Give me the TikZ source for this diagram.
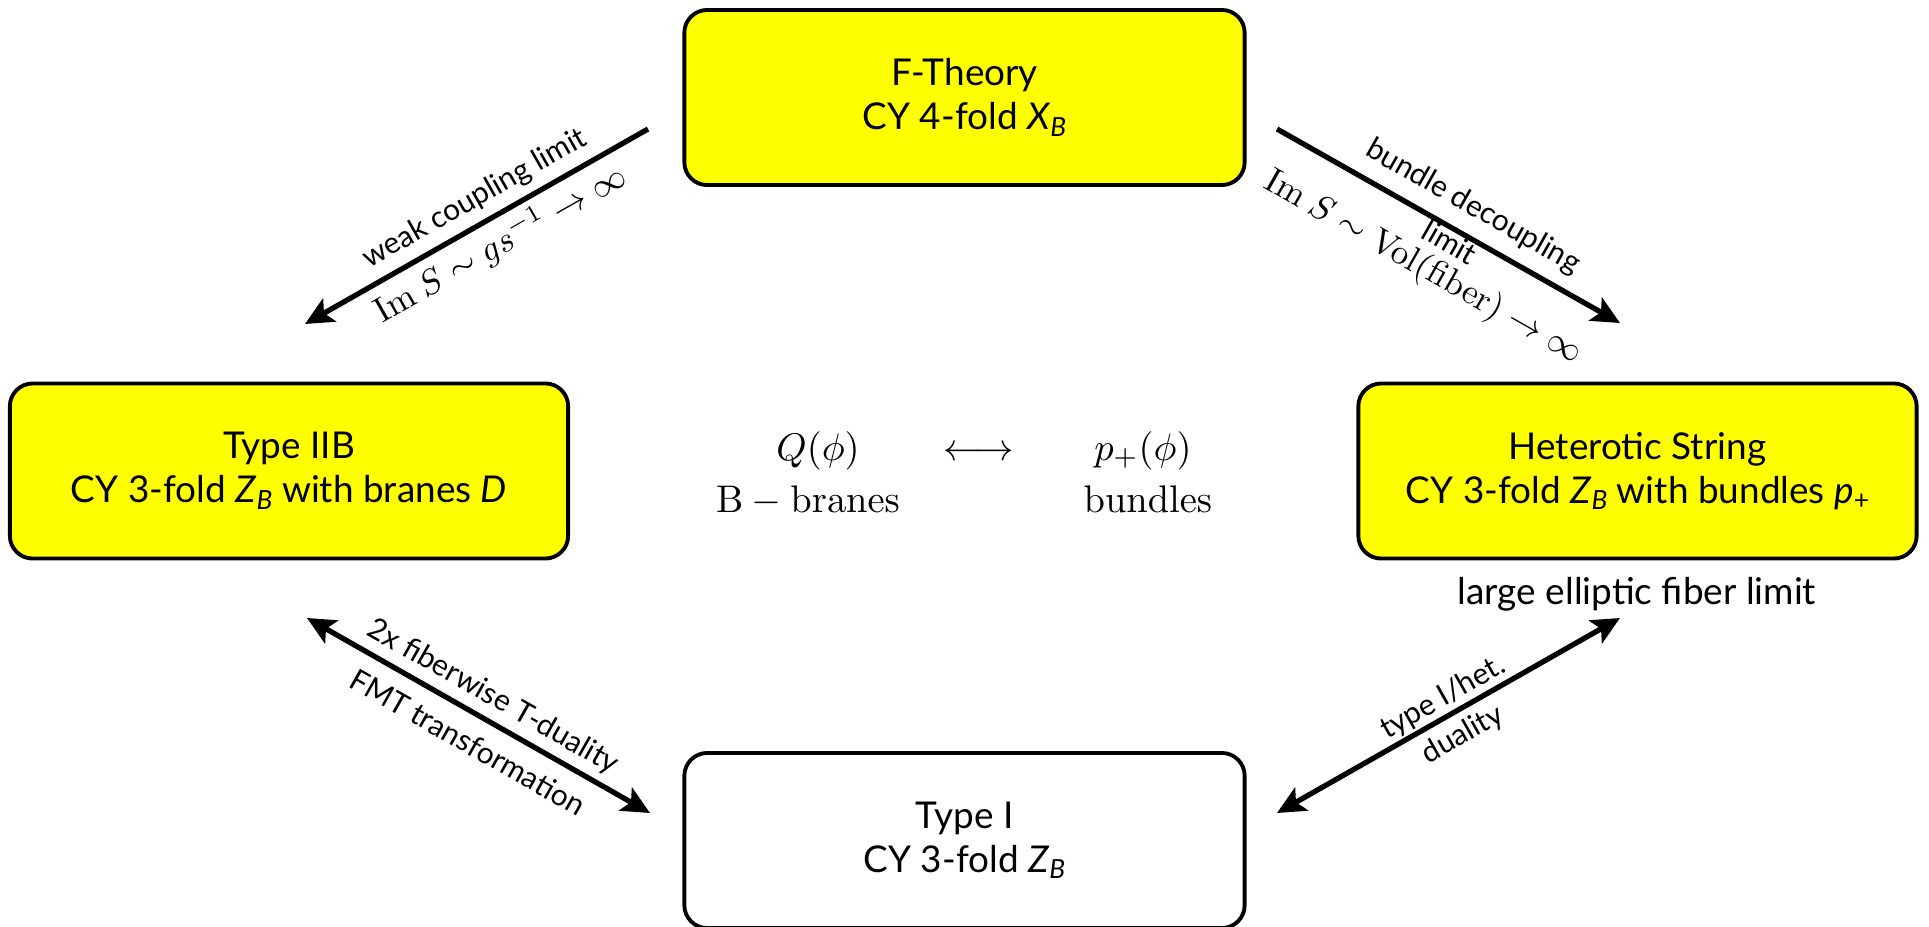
\documentclass[tikz,border=0pt]{standalone}
\usepackage[no-math]{fontspec}
\setmainfont{Lato}
\usetikzlibrary{arrows.meta}
\definecolor{boxyellow}{RGB}{255,255,0}
\newcommand\mysub[1]{\raisebox{-0.35ex}{\fontsize{7.5}{8}\selectfont #1}}
\tikzset{
  theory/.style={draw=black, line width=1.1pt, rounded corners=6.5pt,
    minimum width=5.6cm, minimum height=1.75cm, align=center, inner sep=0pt,
    font=\fontsize{10.5}{12.5}\selectfont},
  hl/.style={theory, fill=boxyellow},
  conn/.style={line width=1.5pt, -{Stealth[length=8pt,width=7.5pt,inset=1.8pt]}},
  dconn/.style={line width=1.5pt, {Stealth[length=8pt,width=7.5pt,inset=1.8pt]}-{Stealth[length=8pt,width=7.5pt,inset=1.8pt]}},
  lbl/.style={font=\fontsize{8.5}{10}\selectfont, inner sep=0pt, align=center},
  mlbl/.style={inner sep=0pt, font=\fontsize{10}{12}\selectfont},
  ctext/.style={inner sep=0pt, anchor=base, font=\fontsize{10.95}{13}\selectfont},
}
\begin{document}
\begin{tikzpicture}[x=0.01cm,y=-0.01cm]
\useasboundingbox (0,0) rectangle (1929,927);
% boxes
\node[hl] (F) at (964.5,97.5) {F-Theory\\CY 4-fold \textit{X}\mysub{\textit{B}}};
\node[hl, minimum width=5.58cm] (IIB) at (289,471) {Type IIB\\CY 3-fold \textit{Z}\mysub{\textit{B}} with branes \textit{D}};
\node[hl, minimum width=5.58cm] (Het) at (1637.5,471) {Heterotic String\\CY 3-fold \textit{Z}\mysub{\textit{B}} with bundles \textit{p}\mysub{+}};
\node[theory] (I) at (964.5,840.5) {Type I\\CY 3-fold \textit{Z}\mysub{\textit{B}}};
\node[lbl, font=\fontsize{10.5}{12}\selectfont] (lef) at (1637,594) {large elliptic fiber limit};
% centre
\node[ctext] (Q) at (818,460) {$Q(\phi)$};
\node[ctext] (lr) at (979,460) {$\longleftrightarrow$};
\node[ctext] (p) at (1143,460) {$p_+(\phi)$};
\node[ctext] (Bb) at (808,512) {$\mathrm{B-branes}$};
\node[ctext] (bu) at (1148,512) {$\mathrm{bundles}$};
% connector ends
\coordinate (w1) at (648,129); \coordinate (w2) at (305,324);
\coordinate (b1) at (1277,129); \coordinate (b2) at (1620,323);
\coordinate (f1) at (307,618); \coordinate (f2) at (650,813);
\coordinate (h1) at (1620,618); \coordinate (h2) at (1277,813);
\draw[conn] (w1) -- (w2);
\draw[conn] (b1) -- (b2);
\draw[dconn] (f1) -- (f2);
\draw[dconn] (h1) -- (h2);
% labels
\node[lbl, rotate=29.6] (wl) at (475,199) {weak coupling limit};
\node[mlbl, rotate=29.6] (wm) at (500,244) {$\mathrm{Im}\ S\sim gs^{-1}\to\infty$};
\node[lbl, rotate=-29.6] (bl) at (1473,207) {bundle decoupling};
\node[lbl, rotate=-29.6] (bl2) at (1450,242) {limit};
\node[mlbl, rotate=-29.6] (bm) at (1423,268) {$\mathrm{Im}\ S\sim\mathrm{Vol}(\mathrm{fiber})\to\infty$};
\node[lbl, rotate=-29.6] (fl) at (493,697) {2x fiberwise T-duality};
\node[lbl, rotate=-29.6] (fl2) at (468,742) {FMT transformation};
\node[lbl, rotate=29.6] (hl1) at (1443,698) {type I/het.};
\node[lbl, rotate=29.6] (hl2) at (1463,735) {duality};
\end{tikzpicture}
\end{document}
